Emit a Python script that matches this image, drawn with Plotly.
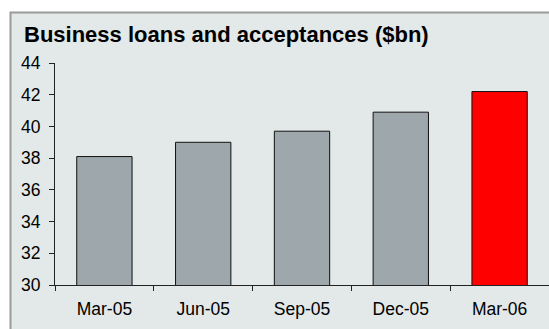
import plotly.graph_objects as go

# Quarterly business loans and acceptances, $bn
quarters = ["Mar-05", "Jun-05", "Sep-05", "Dec-05", "Mar-06"]
loans_bn = [38.1, 39.0, 39.7, 40.9, 42.2]
bar_colors = ["#9ea7ab", "#9ea7ab", "#9ea7ab", "#9ea7ab", "#ff0000"]
y_ticks = [30, 32, 34, 36, 38, 40, 42, 44]

W, H = 549, 329
ML, MR, MT, MB = 55, 0, 63, 44
pw, ph = W - ML - MR, H - MT - MB

def px_to_paper_x(px):
    return (px - ML) / pw

def px_to_paper_y(py):
    return (H - MB - py) / ph

fig = go.Figure(
    go.Bar(
        x=quarters,
        y=loans_bn,
        marker=dict(color=bar_colors, line=dict(color="#111111", width=1)),
        width=0.56,
    )
)

# light grey panel with a border along the top and left edges
fig.add_shape(
    type="rect", xref="paper", yref="paper", layer="below",
    x0=px_to_paper_x(10.5), x1=px_to_paper_x(W + 20),
    y0=px_to_paper_y(H + 20), y1=px_to_paper_y(12.5),
    fillcolor="#e3e8e8", line=dict(color="#9a9a9a", width=2),
)

fig.add_annotation(
    text="<b>Business loans and acceptances ($bn)</b>",
    xref="paper", yref="paper",
    x=px_to_paper_x(22), y=px_to_paper_y(34),
    xanchor="left", yanchor="middle", showarrow=False,
    font=dict(family="Liberation Sans, Arial", size=22, color="#000000"),
)

fig.update_layout(
    width=W, height=H,
    margin=dict(l=ML, r=MR, t=MT, b=MB),
    paper_bgcolor="white",
    plot_bgcolor="rgba(0,0,0,0)",
    showlegend=False,
    font=dict(family="Liberation Sans, Arial", size=17.5, color="#000000"),
)
fig.update_xaxes(
    range=[-0.5, 4.5], showgrid=False, zeroline=False,
    showline=True, linecolor="#222222", linewidth=1,
    ticks="outside", ticklen=5, tickcolor="#222222", tickson="boundaries",
    ticklabelstandoff=8,
)
fig.update_yaxes(
    range=[30, 44], tickvals=y_ticks, showgrid=False, zeroline=False,
    showline=True, linecolor="#222222", linewidth=1,
    ticks="outside", ticklen=5, tickcolor="#222222",
    ticklabelstandoff=5,
)

fig.write_html("out.html")
